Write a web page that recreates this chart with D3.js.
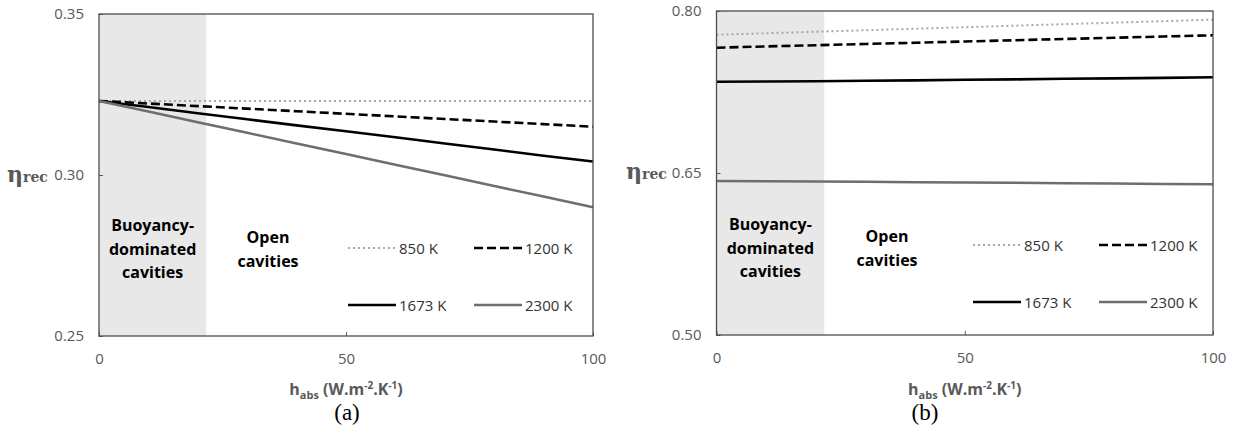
<!DOCTYPE html>
<html><head><meta charset="utf-8">
<script src="https://cdn.jsdelivr.net/npm/d3@7"></script>
<style>body{margin:0;background:#fff}svg{display:block}</style>
</head><body>
<svg id="c" width="1239" height="432"></svg>
<script>
const hValues = [0,10,20,30,40,50,60,70,80,90,100];
const seriesNames = ["850 K","1200 K","1673 K","2300 K"];
// panel (a)
const a850  = [0.3230,0.3230,0.3230,0.3230,0.3230,0.3230,0.3230,0.3230,0.3230,0.3230,0.3230];
const a1200 = [0.3230,0.3222,0.3214,0.3206,0.3198,0.3190,0.3182,0.3174,0.3166,0.3158,0.3150];
const a1673 = [0.3230,0.3211,0.3192,0.3173,0.3154,0.3136,0.3117,0.3098,0.3079,0.3060,0.3042];
const a2300 = [0.3230,0.3197,0.3164,0.3131,0.3098,0.3065,0.3032,0.2999,0.2966,0.2933,0.2900];
// panel (b)
const b850  = [0.7780,0.7794,0.7808,0.7822,0.7836,0.7850,0.7864,0.7878,0.7892,0.7906,0.7920];
const b1200 = [0.7660,0.7672,0.7683,0.7695,0.7706,0.7718,0.7729,0.7741,0.7752,0.7764,0.7775];
const b1673 = [0.7345,0.7347,0.7350,0.7354,0.7358,0.7363,0.7367,0.7372,0.7376,0.7381,0.7386];
const b2300 = [0.6426,0.6424,0.6421,0.6418,0.6415,0.6412,0.6409,0.6405,0.6402,0.6398,0.6395];
const xTicks = [0,50,100];
const aYTicks = [0.25,0.30,0.35];
const bYTicks = [0.50,0.65,0.80];
const regionBoundary = 21.7;

const styles = [
  {stroke:"#a6a6a6", width:2, dash:"2,3"},
  {stroke:"#000", width:2.6, dash:"9,4"},
  {stroke:"#000", width:2.6, dash:null},
  {stroke:"#6e6e6e", width:2.5, dash:null}
];

const svg = d3.select("#c");
const grey = "#595959";

function panel(cfg){
  const g = svg.append("g");
  const x = d3.scaleLinear().domain([0,100]).range([cfg.l,cfg.r]);
  const y = d3.scaleLinear().domain(cfg.yDomain).range([cfg.b,cfg.t]);
  g.append("rect").attr("x",x(0)).attr("y",cfg.t).attr("width",x(regionBoundary)-x(0)).attr("height",cfg.b-cfg.t).attr("fill","#e8e8e8");
  const ya = g.append("g").attr("transform",`translate(${cfg.l},0)`)
    .call(d3.axisLeft(y).tickValues(cfg.yTicks).tickFormat(d3.format(".2f")).tickSizeInner(-4).tickSizeOuter(0).tickPadding(15));
  ya.select(".domain").remove();
  ya.selectAll("line").attr("stroke",grey);
  ya.selectAll("text").attr("fill",grey).style("font-family","Open Sans").style("font-size","15px");
  const xa = g.append("g").attr("transform",`translate(0,${cfg.b})`)
    .call(d3.axisBottom(x).tickValues(xTicks).tickFormat(d3.format("d")).tickSizeInner(-4).tickSizeOuter(0).tickPadding(28));
  xa.select(".domain").remove();
  xa.selectAll("line").attr("stroke",grey);
  xa.selectAll("text").attr("fill",grey).style("font-family","Open Sans").style("font-size","15px").attr("dy","0");
  const line = d3.line().x((d,i)=>x(hValues[i])).y(d=>y(d));
  cfg.series.forEach((s,i)=>{
    g.append("path").datum(s).attr("d",line).attr("fill","none")
      .attr("stroke",styles[i].stroke).attr("stroke-width",styles[i].width)
      .attr("stroke-dasharray",styles[i].dash);
  });
  g.append("rect").attr("x",cfg.l).attr("y",cfg.t).attr("width",cfg.r-cfg.l).attr("height",cfg.b-cfg.t)
    .attr("fill","none").attr("stroke","#4d4d4d").attr("stroke-width",1.3);
  const cx1 = (x(0)+x(regionBoundary))/2;
  ["Buoyancy-","dominated","cavities"].forEach((t,i)=>{
    g.append("text").attr("x",cx1).attr("y",cfg.b-105+i*23.5).attr("text-anchor","middle")
      .style("font-family","Open Sans").style("font-weight","bold").style("font-size","16px").attr("fill","#000").text(t);
  });
  ["Open","cavities"].forEach((t,i)=>{
    g.append("text").attr("x",cfg.openX).attr("y",cfg.b-93+i*24).attr("text-anchor","middle")
      .style("font-family","Open Sans").style("font-weight","bold").style("font-size","16px").attr("fill","#000").text(t);
  });
  const lx = [cfg.legX, cfg.legX+126];
  const ly = [cfg.legY, cfg.legY+57];
  seriesNames.forEach((n,i)=>{
    const px = lx[i%2], py = ly[Math.floor(i/2)];
    g.append("line").attr("x1",px).attr("x2",px+48).attr("y1",py).attr("y2",py)
      .attr("stroke",styles[i].stroke).attr("stroke-width",styles[i].width).attr("stroke-dasharray",styles[i].dash);
    g.append("text").attr("x",px+51).attr("y",py+5.5).style("font-family","Open Sans").style("font-size","15px")
      .attr("fill","#333").text(n);
  });
  const yl = g.append("text").attr("x",cfg.ylX).attr("y",cfg.ylY).attr("fill",grey).style("font-family","DejaVu Serif").style("font-weight","bold");
  yl.append("tspan").style("font-size","22px").text("η");
  yl.append("tspan").style("font-size","14px").text("rec");
  const xt = g.append("text").attr("x",x(50)).attr("y",395).attr("text-anchor","middle").attr("fill",grey)
    .style("font-family","Open Sans").style("font-weight","bold").style("font-size","16px");
  xt.append("tspan").text("h");
  xt.append("tspan").attr("dy",4).style("font-size","11px").text("abs");
  xt.append("tspan").attr("dy",-4).text(" (W.m");
  xt.append("tspan").attr("dy",-6).style("font-size","10px").text("-2");
  xt.append("tspan").attr("dy",6).text(".K");
  xt.append("tspan").attr("dy",-6).style("font-size","10px").text("-1");
  xt.append("tspan").attr("dy",6).text(")");
  g.append("text").attr("x",cfg.capX).attr("y",420).attr("text-anchor","middle").attr("fill","#000")
    .style("font-family","Liberation Serif").style("font-size","23px").text(cfg.cap);
}

panel({l:99,r:593,t:14,b:336,yDomain:[0.25,0.35],yTicks:aYTicks,series:[a850,a1200,a1673,a2300],
  openX:268,legX:348,legY:248,ylX:7,ylY:182,capX:347,cap:"(a)"});
panel({l:716.5,r:1213,t:11,b:335,yDomain:[0.50,0.80],yTicks:bYTicks,series:[b850,b1200,b1673,b2300],
  openX:887,legX:973,legY:245,ylX:626,ylY:179,capX:925,cap:"(b)"});
</script>
</body></html>
